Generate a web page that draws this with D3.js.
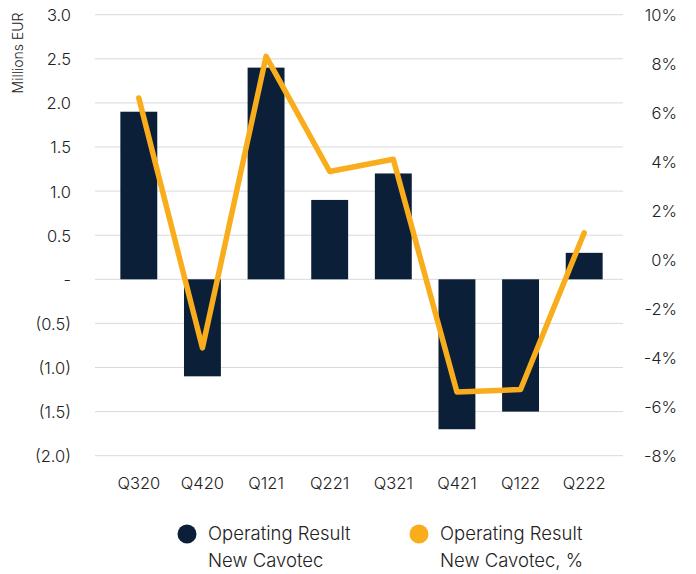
<!DOCTYPE html>
<html>
<head>
<meta charset="utf-8">
<script src="https://cdn.jsdelivr.net/npm/d3@7"></script>
<style>
  body { margin: 0; background: #fff; }
  svg text { font-family: Inter, "Noto Sans", sans-serif; font-weight: 300; fill: #222; }
</style>
</head>
<body>
<svg id="chart" width="696" height="574"></svg>
<script>
// quarters on the x axis
const quarters = ["Q320", "Q420", "Q121", "Q221", "Q321", "Q421", "Q122", "Q222"];
// operating result, millions EUR (bars, left axis)
const opResult = [1.9, -1.1, 2.4, 0.9, 1.2, -1.7, -1.5, 0.3];
// operating result margin, % (line, right axis)
const opMargin = [6.6, -3.6, 8.3, 3.6, 4.1, -5.4, -5.3, 1.1];
// tick values
const leftTicks = [3.0, 2.5, 2.0, 1.5, 1.0, 0.5, 0, -0.5, -1.0, -1.5, -2.0];
const rightTicks = [10, 8, 6, 4, 2, 0, -2, -4, -6, -8];
const legendNames = [["Operating Result", "New Cavotec"], ["Operating Result", "New Cavotec, %"]];

const navy = "#0b1f38";
const orange = "#f9ad1c";

const svg = d3.select("#chart");
const plotTop = 14.7, plotBottom = 455.7, plotLeft = 95, plotRight = 623;

const x = d3.scaleBand().domain(quarters).range([107, 616]).paddingInner(0.42).paddingOuter(0.21);
const yL = d3.scaleLinear().domain([-2, 3]).range([plotBottom, plotTop]);
const yR = d3.scaleLinear().domain([-8, 10]).range([plotBottom, plotTop]);

// gridlines from the left axis
svg.append("g")
   .selectAll("line")
   .data(leftTicks)
   .enter()
   .append("line")
   .attr("x1", plotLeft).attr("x2", plotRight)
   .attr("y1", d => yL(d)).attr("y2", d => yL(d))
   .style("stroke", "#d9d9d9")
   .style("stroke-width", 1);

// left axis labels
const fmtL = d => d === 0 ? "-" : (d < 0 ? "(" + d3.format(".1f")(-d) + ")" : d3.format(".1f")(d));
const gl = svg.append("g")
   .attr("transform", `translate(${71},0)`)
   .call(d3.axisLeft(yL).tickValues(leftTicks).tickFormat(fmtL).tickSize(0).tickPadding(0));
gl.select(".domain").remove();
gl.selectAll("text").style("font-size", "16.5px").style("font-family", null).attr("fill", null).attr("dy", "0.36em");

// right axis labels
const gr = svg.append("g")
   .attr("transform", `translate(${677},0)`)
   .call(d3.axisLeft(yR).tickValues(rightTicks).tickFormat(d => d + "%").tickSize(0).tickPadding(0));
gr.select(".domain").remove();
gr.selectAll("text").style("font-size", "16.5px").style("font-family", null).attr("fill", null).attr("dy", "0.36em");

// y axis title
svg.append("text")
   .attr("transform", `translate(${23},${53}) rotate(-90)`)
   .attr("text-anchor", "middle")
   .style("font-size", "14px")
   .text("Millions EUR");

// bars
svg.append("g")
   .selectAll("rect")
   .data(quarters)
   .enter()
   .append("rect")
   .attr("x", d => x(d))
   .attr("width", x.bandwidth())
   .attr("y", (d, i) => yL(Math.max(0, opResult[i])))
   .attr("height", (d, i) => Math.abs(yL(opResult[i]) - yL(0)))
   .style("fill", navy);

// margin line
const line = d3.line()
   .x((d, i) => x(quarters[i]) + x.bandwidth() / 2)
   .y(d => yR(d));
svg.append("path")
   .datum(opMargin)
   .attr("d", line)
   .style("fill", "none")
   .style("stroke", orange)
   .style("stroke-width", 5.5)
   .style("stroke-linejoin", "round")
   .style("stroke-linecap", "round");

// x axis labels
const gx = svg.append("g")
   .attr("transform", `translate(0,${483})`)
   .call(d3.axisBottom(x).tickSize(0).tickPadding(0));
gx.select(".domain").remove();
gx.selectAll("text").style("font-size", "16.5px").style("font-family", null).attr("fill", null).attr("dy", "0.36em");

// legend
const legend = svg.append("g")
   .selectAll("g")
   .data(legendNames)
   .enter()
   .append("g")
   .attr("transform", (d, i) => `translate(${[187, 419][i]},${534})`);
legend.append("circle")
   .attr("r", 9.5)
   .style("fill", (d, i) => [navy, orange][i]);
legend.append("text")
   .attr("x", 21).attr("y", 6)
   .style("font-size", "18.5px")
   .text(d => d[0]);
legend.append("text")
   .attr("x", 21).attr("y", 33)
   .style("font-size", "18.5px")
   .text(d => d[1]);
</script>
</body>
</html>
